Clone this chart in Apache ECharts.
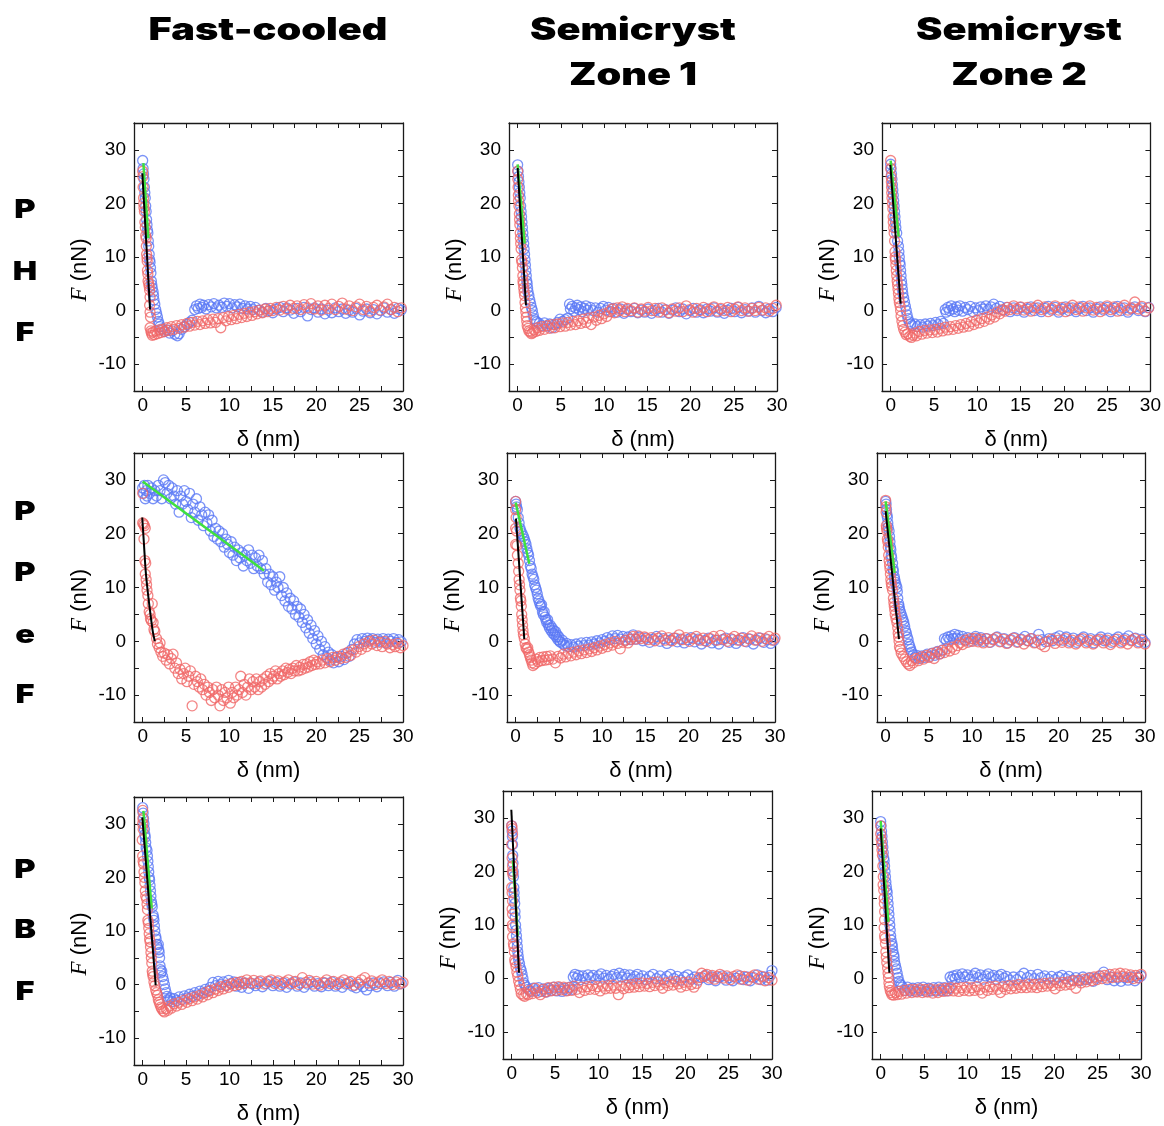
<!DOCTYPE html>
<html>
<head>
<meta charset="utf-8">
<script src="https://cdn.jsdelivr.net/npm/echarts@6/dist/echarts.min.js"></script>
<style>
html,body{margin:0;padding:0;background:#fff;}
#chart{width:1164px;height:1126px;}
</style>
</head>
<body>
<div id="chart"></div>
<script>
// ---- Axis ticks and labels ----
const xTickLabels = [0, 5, 10, 15, 20, 25, 30];
const xTickMarks = [0, 2.5, 5, 7.5, 10, 12.5, 15, 17.5, 20, 22.5, 25, 27.5, 30];
const yTickLabels = [-10, 0, 10, 20, 30];
const yTickMarks = [-10, -5, 0, 5, 10, 15, 20, 25, 30];
const columnTitles = [['Fast-cooled'], ['Semicryst', 'Zone 1'], ['Semicryst', 'Zone 2']];
const rowTitles = [['P', 'H', 'F'], ['P', 'P', 'e', 'F'], ['P', 'B', 'F']];

// ---- PHF, fast-cooled ----
const phfFastApproach = [[0,28],[0.05,26.5],[0.1,25.5],[0.15,24.5],[0.2,23],[0.25,22],[0.3,21],[0.35,19.5],[0.4,18.5],[0.45,17],[0.5,16],[0.55,15],[0.6,14.5],[0.65,13],[0.7,12],[0.75,10.5],[0.8,9.5],[0.85,9],[0.9,8],[0.95,7],[1.0,5.5],[1.05,4.8],[1.1,4.2],[1.2,3.5],[1.25,2.8],[1.3,2],[1.4,1.2],[1.5,0.2],[1.6,-0.5],[1.7,-1.2],[1.8,-2],[1.9,-2.5],[2.0,-3],
[2.2,-3.4],[2.5,-3.9],[2.8,-3.6],[3.1,-4.2],[3.4,-3.8],[3.7,-4.4],[4.0,-4.7],[4.2,-4.3],[4.5,-3.5],[4.8,-3.0],[5.1,-2.6],[5.4,-2.2],[5.7,-1.8],
[6.0,0.2],[6.2,0.9],[6.4,0.4],[6.6,1.2],[6.8,0.6],[7.0,1.0],[7.3,0.3],[7.6,1.1],[7.9,0.7],[8.2,1.3],[8.5,0.5],[8.8,1.0],[9.1,0.6],[9.4,1.4],[9.7,0.8],[10.0,1.3],[10.3,0.5],[10.6,1.1],[10.9,0.7],[11.2,1.2],[11.5,0.4],[11.8,0.9],[12.1,0.3],[12.4,0.8],[12.7,0.2],[13.0,0.6],
[13.4,0.1],[13.8,-0.3],[14.2,0.4],[14.6,0.0],[15.0,-0.4],[15.4,0.3],[15.8,0.6],[16.2,-0.2],[16.6,0.5],[17.0,0.1],[17.4,-0.5],[17.8,0.4],[18.2,-0.2],[18.6,0.6],[19.0,-1.0],[19.4,0.2],[19.8,0.5],[20.2,-0.3],[20.6,0.3],[21.0,-0.6],[21.4,0.1],[21.8,-0.4],[22.2,0.5],[22.6,-0.2],[23.0,0.3],[23.4,-0.5],[23.8,0.1],[24.2,-0.3],[24.6,0.4],[25.0,-0.8],[25.4,-0.1],[25.8,0.3],[26.2,-0.4],[26.6,0.2],[27.0,-0.6],[27.4,0.0],[27.8,0.5],[28.2,-0.3],[28.6,0.2],[29.0,-0.5],[29.4,0.4],[29.8,0.1]];
const phfFastRetract = [[0,26],[0.02,25],[0.05,23],[0.1,21],[0.12,20],[0.15,19.2],[0.2,18.5],[0.25,16.5],[0.3,15.5],[0.35,14],[0.4,13.5],[0.42,12],[0.45,10.5],[0.5,9.8],[0.52,9.2],[0.55,7.5],[0.6,6.8],[0.62,5.5],[0.7,5],[0.75,4.5],[0.8,3.8],[0.85,2.5],[0.8,1],[0.85,-0.3],[0.9,-1.2],[0.85,-3.2],[0.95,-3.8],[1.0,-4.2],[1.1,-4.6],[1.2,-4.0],[1.35,-4.5],
[1.5,-3.8],[1.7,-4.3],[1.9,-3.6],[2.1,-4.1],[2.3,-3.5],[2.5,-3.9],[2.8,-3.2],[3.0,-3.7],[3.3,-3.0],[3.6,-3.5],[3.9,-2.8],[4.2,-3.3],[4.5,-2.6],[4.8,-3.1],[5.1,-2.4],[5.4,-2.9],[5.7,-2.2],[6.0,-2.7],[6.3,-2.0],[6.6,-2.6],[6.9,-1.9],[7.2,-2.4],[7.5,-1.7],[7.8,-2.3],[8.1,-1.6],[8.4,-2.2],[8.7,-1.5],[9.0,-3.2],[9.3,-1.3],[9.6,-1.9],[9.9,-1.1],[10.2,-1.7],[10.5,-0.9],[10.8,-1.5],[11.1,-0.7],[11.4,-1.3],[11.7,-0.5],[12.0,-1.1],[12.3,-0.3],[12.6,-0.9],[12.9,-0.2],[13.2,-0.6],[13.5,0.1],[13.8,-0.4],[14.1,0.3],[14.4,-0.2],[14.7,0.4],[15.0,0.0],
[15.4,0.6],[15.8,0.1],[16.2,0.8],[16.6,0.3],[17.0,1.0],[17.4,0.4],[17.8,0.9],[18.2,0.2],[18.6,1.1],[19.0,0.5],[19.4,1.3],[19.8,0.3],[20.2,0.9],[20.6,0.1],[21.0,1.0],[21.4,0.4],[21.8,1.2],[22.2,0.2],[22.6,0.8],[23.0,1.4],[23.4,0.3],[23.8,0.9],[24.2,0.0],[24.6,0.7],[25.0,1.2],[25.4,0.2],[25.8,0.8],[26.2,-0.1],[26.6,0.6],[27.0,1.0],[27.4,0.1],[27.8,0.7],[28.2,1.2],[28.6,0.2],[29.0,0.6],[29.4,-0.2],[29.8,0.5]];
const phfFastFitApproach = [[0.08,27.5],[0.65,13.5]];
const phfFastFitRetract = [[-0.04,25.6],[0.85,0.2]];

// ---- PHF, semicrystalline zone 1 ----
const phfZone1Approach = [[0,27.2],[0.05,26],[0.1,25],[0.15,24],[0.2,23],[0.25,22],[0.3,21],[0.35,19.5],[0.4,18.5],[0.45,17.5],[0.5,16.5],[0.55,15.5],[0.6,14.5],[0.65,13.5],[0.7,12.5],[0.75,11.5],[0.8,10.5],[0.85,9.5],[0.9,8.5],[0.95,7.5],[1.0,6.5],[1.05,5.5],[1.1,5],[1.15,4.2],[1.2,3.5],[1.3,2.8],[1.4,2],[1.5,1.3],[1.6,0.6],[1.7,0],[1.8,-0.8],[1.9,-1.5],[2.0,-1.9],[2.2,-2.1],
[2.5,-2.4],[2.8,-2.8],[3.1,-2.3],[3.4,-2.9],[3.7,-2.5],[4.0,-3.2],[4.3,-2.6],[4.6,-2.2],[4.9,-1.6],[5.2,-2.0],[5.5,-1.7],[5.8,-1.4],
[6.0,1.2],[6.1,0.3],[6.3,0.8],[6.5,-0.1],[6.7,0.5],[6.9,1.0],[7.1,0.2],[7.3,0.7],[7.5,-0.2],[7.7,0.4],[7.9,0.9],[8.1,0.1],[8.4,0.6],[8.7,0.0],[9.0,0.5],[9.3,-0.3],[9.6,0.4],[9.9,0.8],[10.2,0.1],[10.5,0.6],[10.8,-0.2],[11.1,0.4],
[11.5,-0.3],[11.9,0.3],[12.3,-0.5],[12.7,0.2],[13.1,-0.2],[13.5,0.4],[13.9,-0.4],[14.3,0.1],[14.7,-0.3],[15.1,0.3],[15.5,-0.5],[15.9,0.0],[16.3,0.4],[16.7,-0.3],[17.1,0.2],[17.5,-0.5],[17.9,0.1],[18.3,0.5],[18.7,-0.2],[19.1,0.3],[19.5,-0.6],[19.9,0.0],[20.3,0.4],[20.7,-0.3],[21.1,0.2],[21.5,-0.4],[21.9,0.3],[22.3,-0.1],[22.7,0.5],[23.1,-0.3],[23.5,0.2],[23.9,-0.5],[24.3,0.1],[24.7,0.4],[25.1,-0.2],[25.5,0.6],[25.9,-0.4],[26.3,0.2],[26.7,-0.1],[27.1,0.5],[27.5,-0.3],[27.9,0.8],[28.3,0.0],[28.7,-0.4],[29.1,0.3],[29.5,-0.2],[29.9,0.6]];
const phfZone1Retract = [[0,26],[0.02,24.5],[0.05,23],[0.08,21.5],[0.1,20.5],[0.15,19.5],[0.2,18],[0.22,17],[0.25,16],[0.3,14.5],[0.32,13.5],[0.35,12.5],[0.4,11.5],[0.45,9.5],[0.5,9],[0.55,8],[0.6,6.5],[0.62,5.5],[0.65,5],[0.7,4.2],[0.75,3.5],[0.8,2.8],[0.85,1.5],[0.9,0.5],[0.95,-0.3],[1.0,-1.2],[1.05,-2],[1.1,-2.8],[1.2,-3.3],[1.3,-3.8],[1.45,-4.0],[1.6,-4.3],[1.75,-4.1],[1.9,-3.6],
[2.1,-3.9],[2.3,-3.2],[2.5,-3.7],[2.8,-3.0],[3.1,-3.5],[3.4,-2.8],[3.7,-3.3],[4.0,-2.6],[4.3,-3.2],[4.6,-2.5],[4.9,-3.0],[5.2,-2.3],[5.5,-2.9],[5.8,-2.2],[6.1,-2.7],[6.4,-2.0],[6.7,-2.6],[7.0,-1.9],[7.3,-2.4],[7.6,-1.6],[7.9,-2.2],[8.2,-1.4],[8.5,-2.6],[8.8,-1.2],[9.1,-1.8],[9.4,-0.9],[9.7,-1.5],[10.0,-0.6],[10.3,-1.1],[10.6,-0.2],[10.9,0.3],[11.2,-0.4],[11.5,0.5],[11.8,0.0],[12.1,0.7],[12.4,-0.2],[12.7,0.4],
[13.1,0.0],[13.5,0.5],[13.9,-0.3],[14.3,0.3],[14.7,-0.1],[15.1,0.6],[15.5,0.0],[15.9,0.4],[16.3,-0.3],[16.7,0.5],[17.1,0.1],[17.5,-0.4],[17.9,0.3],[18.3,-0.1],[18.7,0.5],[19.1,-0.2],[19.5,0.9],[19.9,0.2],[20.3,-0.3],[20.7,0.4],[21.1,0.0],[21.5,0.6],[21.9,-0.2],[22.3,0.3],[22.7,0.7],[23.1,-0.1],[23.5,0.4],[23.9,0.0],[24.3,0.6],[24.7,-0.2],[25.1,0.3],[25.5,0.7],[25.9,0.0],[26.3,0.5],[26.7,-0.1],[27.1,0.4],[27.5,0.0],[27.9,0.6],[28.3,0.1],[28.7,0.5],[29.1,-0.1],[29.5,0.4],[29.9,1.0]];
const phfZone1FitApproach = [[0,27.3],[0.81,12.5]];
const phfZone1FitRetract = [[0,26.6],[0.96,1.0]];

// ---- PHF, semicrystalline zone 2 ----
const phfZone2Approach = [[0,27.3],[0.05,26.5],[0.1,25.5],[0.15,24.5],[0.2,23.5],[0.25,22.5],[0.3,21.5],[0.35,20.5],[0.4,19.5],[0.45,18.5],[0.5,17.5],[0.55,16.5],[0.6,15.5],[0.7,14.5],[0.8,13],[0.9,12],[0.95,11],[1.0,10],[1.05,9],[1.1,8.5],[1.15,7.5],[1.2,6.5],[1.25,5.5],[1.3,4.8],[1.35,4],[1.4,3.2],[1.5,2.4],[1.6,1.6],[1.7,0.8],[1.8,0],[1.9,-0.8],[2.0,-1.5],[2.15,-2.1],[2.3,-2.5],[2.5,-2.8],
[2.8,-2.5],[3.1,-3.0],[3.4,-2.6],[3.7,-3.1],[4.0,-2.5],[4.3,-2.9],[4.6,-2.4],[4.9,-2.8],[5.2,-2.2],[5.5,-2.6],[5.8,-2.0],[6.1,-2.4],
[6.3,0.2],[6.4,-0.3],[6.6,0.6],[6.8,0.0],[7.0,0.9],[7.2,0.3],[7.4,-0.2],[7.6,0.7],[7.8,0.1],[8.0,0.9],[8.3,-0.1],[8.6,0.6],[8.9,0.2],[9.2,0.8],[9.5,-0.2],[9.8,0.5],[10.1,0.0],[10.4,0.7],[10.7,0.3],[11.0,0.9],[11.3,0.2],[11.6,0.7],[11.9,1.2],[12.2,0.4],
[12.6,0.8],[13.0,0.1],[13.4,0.6],[13.8,-0.2],[14.2,0.5],[14.6,0.0],[15.0,0.6],[15.4,-0.3],[15.8,0.3],[16.2,0.7],[16.6,0.0],[17.0,0.5],[17.4,-0.2],[17.8,0.4],[18.2,0.8],[18.6,0.1],[19.0,0.6],[19.4,-0.3],[19.8,0.3],[20.2,0.7],[20.6,0.0],[21.0,0.5],[21.4,-0.2],[21.8,0.4],[22.2,0.8],[22.6,0.0],[23.0,0.5],[23.4,-0.3],[23.8,0.3],[24.2,0.7],[24.6,0.1],[25.0,0.6],[25.4,-0.2],[25.8,0.4],[26.2,0.8],[26.6,0.0],[27.0,0.5],[27.4,-0.3],[27.8,0.3],[28.2,0.7],[28.6,0.0],[29.0,0.5],[29.4,-0.2],[29.8,0.6]];
const phfZone2Retract = [[0,28],[0,26.5],[0.05,25],[0.08,24],[0.1,23],[0.12,22],[0.15,21],[0.2,20],[0.25,19],[0.28,17.5],[0.3,16.5],[0.35,15.5],[0.4,14.5],[0.45,13],[0.5,11],[0.52,10],[0.55,9.5],[0.6,8.5],[0.65,7.5],[0.7,6.5],[0.75,5.5],[0.8,4.8],[0.85,4],[0.9,3.2],[0.95,2.2],[1.0,1.5],[1.1,0.8],[1.15,0],[1.2,-1],[1.3,-2],[1.4,-2.8],[1.5,-3.5],[1.65,-4],[1.8,-4.5],[2.0,-4.3],[2.2,-4.8],[2.4,-5.0],[2.6,-4.6],
[2.8,-4.2],[3.0,-4.7],[3.3,-3.9],[3.6,-4.4],[3.9,-3.7],[4.2,-4.2],[4.5,-3.6],[4.8,-4.1],[5.1,-3.5],[5.4,-4.0],[5.7,-3.3],[6.0,-3.8],[6.3,-3.1],[6.6,-3.6],[6.9,-3.0],[7.2,-3.5],[7.5,-2.8],[7.8,-3.3],[8.1,-2.6],[8.4,-3.1],[8.7,-2.4],[9.0,-2.9],[9.3,-2.1],[9.6,-2.6],[9.9,-1.8],[10.2,-2.3],[10.5,-1.5],[10.8,-2.0],[11.1,-1.2],[11.4,-1.6],[11.7,-0.8],[12.0,-1.2],[12.3,-0.3],[12.6,-0.6],[12.9,0.2],[13.2,-0.1],
[13.5,0.6],[13.8,0.2],[14.2,0.9],[14.6,0.3],[15.0,0.7],[15.4,0.1],[15.8,0.6],[16.2,-0.1],[16.6,0.5],[17.0,1.0],[17.4,0.2],[17.8,0.7],[18.2,-0.2],[18.6,0.4],[19.0,0.9],[19.4,0.1],[19.8,0.6],[20.2,-0.2],[20.6,0.5],[21.0,1.0],[21.4,0.2],[21.8,0.7],[22.2,-0.1],[22.6,0.5],[23.0,0.9],[23.4,0.1],[23.8,0.6],[24.2,-0.2],[24.6,0.4],[25.0,0.9],[25.4,0.2],[25.8,0.7],[26.2,-0.1],[26.6,0.5],[27.0,1.0],[27.4,0.1],[27.8,0.5],[28.2,1.6],[28.6,0.3],[29.0,0.8],[29.4,-0.1],[29.8,0.5]];
const phfZone2FitApproach = [[0,28],[0.92,13.8]];
const phfZone2FitRetract = [[-0.04,27.2],[1.15,1.3]];

// ---- PPeF, fast-cooled ----
const ppefFastApproach = [[0,28.5],[0.1,27.5],[0.2,29],[0.3,26.5],[0.4,28],[0.5,27],[0.6,29],[0.8,27.5],[1.0,28.5],[1.2,26.5],[1.4,28],[1.6,27],[1.8,29],[2.0,28],[2.2,26.5],[2.4,30],[2.6,29.5],[2.8,27.5],[3.0,29],[3.2,26.5],[3.4,28.5],[3.6,27],[3.8,25.5],[4.0,28],[4.2,24],[4.4,27],[4.6,25.5],[4.8,28],[5.0,26],[5.2,24.5],[5.4,27.5],[5.6,23],[5.8,25.5],[6.0,24],[6.2,26.5],[6.4,22.5],[6.6,25],[6.8,23.5],[7.0,21.5],[7.2,24],[7.4,22],[7.6,23.5],[7.8,20.5],[8.0,22.5],[8.2,19.5],[8.4,21],[8.6,19],[8.8,20.5],[9.0,18.5],[9.2,20],[9.4,17.5],[9.6,19],[9.8,18],[10.0,16.5],[10.2,18.5],[10.4,16],[10.6,17.5],[10.8,15],[11.0,17],[11.2,15.5],[11.4,16.5],[11.6,14],[11.8,16],[12.0,15],[12.2,17],[12.4,14.5],[12.6,16],[12.8,13.5],[13.0,15.5],[13.2,14],[13.4,16],[13.6,13.5],[13.8,15],[14.0,12.5],[14.2,13.5],[14.4,11],[14.6,12.5],[14.8,10.5],[15.0,12],[15.2,9.5],[15.4,11],[15.6,10],[15.8,12],[16.0,8.5],[16.2,10],[16.4,7.5],[16.6,9],[16.8,6.5],[17.0,8],[17.2,6],[17.4,7.5],[17.6,5],[17.8,6.5],[18.0,4.5],[18.2,6],[18.4,3.5],[18.6,5],[18.8,2.5],[19.0,4],[19.2,1.5],[19.4,3],[19.6,0.5],[19.8,2],[20.0,-0.5],[20.2,1],[20.4,-1.5],[20.6,0],[20.8,-2.5],[21.0,-1],[21.2,-3],[21.4,-2],[21.6,-3.5],[21.8,-2.5],[22.0,-4],[22.3,-3],[22.6,-3.8],[22.9,-2.8],[23.2,-3.4],[23.5,-2.2],[23.8,-2.8],[24.1,-1.5],[24.4,-0.5],[24.7,0.3],[25.0,-0.3],[25.3,0.5],[25.6,0.0],[25.9,0.6],[26.2,0.2],[26.5,0.5],[26.8,-0.2],[27.1,0.4],[27.4,0.0],[27.7,0.5],[28.0,-0.3],[28.3,0.4],[28.6,0.0],[28.9,0.5],[29.2,-0.2],[29.5,0.3],[29.8,-0.1]];
const ppefFastRetract = [[0,27.5],[0,22],[0.1,21.8],[0.2,21.5],[0.3,21],[0.15,19],[0.25,15],[0.35,14.5],[0.3,12.5],[0.4,11.5],[0.45,10.5],[0.5,9.5],[0.6,8.5],[0.65,7],[0.75,5.5],[0.85,5],[0.9,4.2],[1.0,3.8],[1.2,3.5],[1.1,7],[1.3,2.2],[1.4,1.8],[1.6,0.5],[1.7,-0.5],[1.9,-1.2],[2.0,-0.3],[2.1,-2],[2.3,-2.8],[2.5,-2.2],[2.7,-3.5],[2.9,-2.5],[3.1,-4.2],[3.3,-3.2],[3.5,-2.4],[3.7,-5],[3.9,-4],[4.1,-6],[4.3,-5.2],[4.5,-7],[4.7,-6],[4.9,-5],[5.1,-7.5],[5.3,-6.5],[5.5,-5.5],[5.7,-12],[5.9,-8],[6.1,-6.5],[6.3,-7.5],[6.5,-8.5],[6.7,-7],[6.9,-9],[7.1,-8],[7.3,-10],[7.5,-8.5],[7.7,-9.5],[7.9,-11],[8.1,-9],[8.3,-10.5],[8.5,-8.5],[8.7,-10],[8.9,-12],[9.1,-9],[9.3,-11],[9.5,-9.5],[9.7,-10.5],[9.9,-8.5],[10.1,-11.5],[10.3,-9.5],[10.5,-10.5],[10.7,-8.5],[10.9,-10],[11.1,-9],[11.3,-6.5],[11.5,-9.5],[11.7,-8],[11.9,-10],[12.1,-8.5],[12.3,-7],[12.5,-9],[12.7,-7.5],[12.9,-8.5],[13.1,-7],[13.3,-9],[13.5,-7.5],[13.7,-8.5],[13.9,-7],[14.1,-8],[14.3,-6.5],[14.5,-7.5],[14.7,-6],[14.9,-7],[15.1,-6.5],[15.3,-5.5],[15.5,-7],[15.7,-6],[15.9,-6.5],[16.1,-5.5],[16.3,-6.2],[16.5,-5],[16.7,-5.8],[16.9,-5.2],[17.1,-6],[17.3,-5],[17.5,-5.5],[17.7,-4.5],[17.9,-5.5],[18.1,-4.8],[18.3,-5.3],[18.5,-4.3],[18.7,-5],[18.9,-4.2],[19.1,-4.8],[19.3,-3.8],[19.5,-4.5],[19.7,-3.5],[19.9,-4.3],[20.1,-3.8],[20.4,-4.2],[20.7,-3.5],[21.0,-4],[21.3,-3.2],[21.6,-3.8],[21.9,-3],[22.2,-3.5],[22.5,-2.8],[22.8,-3.2],[23.1,-2.4],[23.4,-3],[23.7,-2],[24.0,-2.6],[24.3,-1.6],[24.6,-2],[24.9,-1],[25.2,-1.5],[25.5,-0.5],[25.8,-1],[26.1,0],[26.4,-0.5],[26.7,0.2],[27.0,-0.8],[27.3,-0.2],[27.6,-1],[27.9,0],[28.2,-0.5],[28.5,-1.2],[28.8,-0.6],[29.1,-1],[29.4,-0.4],[29.7,-1.2],[30,-0.8]];
const ppefFastFitApproach = [[0,29.7],[14,13.1]];
const ppefFastFitRetract = [[-0.05,23],[0.15,18],[0.35,13],[0.6,9],[0.9,5],[1.15,2],[1.4,0]];

// ---- PPeF, semicrystalline zone 1 ----
const ppefZone1Approach = [[0,26],[0.05,25.5],[0.1,25],[0.2,24.5],[0.3,23],[0.4,22],[0.5,21],[0.6,20.5],[0.75,20],[0.9,19.5],[1.0,19],[1.1,18.5],[1.2,18],[1.3,17.2],[1.4,16.5],[1.5,16],[1.6,15],[1.7,14],[1.8,13.5],[1.9,12.5],[2.0,12],[2.1,11.5],[2.2,10.5],[2.3,10],[2.4,9.5],[2.5,8.8],[2.6,8],[2.7,7.5],[2.8,7],[2.9,6.5],[3.0,6.8],[3.1,5.5],[3.2,5],[3.3,5.5],[3.4,4.5],[3.5,4],[3.6,3.5],[3.7,4],[3.8,3],[3.9,2.5],[4.0,3],[4.1,2],[4.2,2.5],[4.3,1.5],[4.4,2],[4.5,1.2],[4.6,1.8],[4.7,0.8],[4.8,1.2],[4.9,0.3],[5.0,0.8],[5.1,0],[5.2,-0.2],[5.4,0.2],[5.5,-0.5],[5.7,-0.8],[5.9,-0.4],[6.1,-1.0],[6.4,-0.6],[6.7,-1.1],[7.0,-0.5],[7.3,-0.9],[7.6,-0.3],[7.9,-0.8],[8.2,-0.2],[8.5,-0.7],[8.8,-0.1],[9.1,-0.5],[9.4,0.1],[9.7,-0.3],[10.0,0.3],[10.3,0.0],[10.6,0.7],[10.9,0.3],[11.2,1.0],[11.5,0.5],[11.8,1.1],[12.1,0.4],[12.4,0.9],[12.7,0.2],[13.0,0.8],[13.3,0.3],[13.6,1.2],[13.9,0.4],[14.3,0.8],[14.7,0.1],[15.1,0.6],[15.5,-0.2],[15.9,0.4],[16.3,0.9],[16.7,0.0],[17.1,0.5],[17.5,-0.4],[17.9,0.2],[18.3,0.6],[18.7,-0.1],[19.1,0.4],[19.5,-0.3],[19.9,0.3],[20.3,0.7],[20.7,-0.1],[21.1,0.4],[21.5,-0.5],[21.9,0.1],[22.3,0.6],[22.7,-0.3],[23.1,0.2],[23.5,-0.5],[23.9,0.3],[24.3,0.6],[24.7,-0.2],[25.1,0.3],[25.5,-0.4],[25.9,0.2],[26.3,0.7],[26.7,-0.1],[27.1,0.4],[27.5,-0.5],[27.9,0.2],[28.3,0.6],[28.7,-0.2],[29.1,0.3],[29.5,-0.4],[29.9,0.2]];
const ppefZone1Retract = [[0,26],[0,24.5],[0.05,23],[0,21],[0.1,20.5],[0,18],[0.15,17.8],[0.2,16],[0.3,14.5],[0.35,13],[0.4,11.5],[0.45,10.5],[0.5,9.5],[0.55,8],[0.6,7.5],[0.65,6.5],[0.7,5],[0.75,4],[0.8,3],[0.85,2],[0.9,1.2],[1.0,0.5],[1.1,-0.5],[1.2,-1.2],[1.3,-1.5],[1.4,-1.2],[1.5,-2],[1.6,-2.5],[1.7,-3],[1.8,-3.5],[1.9,-4],[2.0,-4.5],[2.2,-4.2],[2.4,-3.3],[2.6,-3.8],[2.8,-3.0],[3.0,-3.6],[3.2,-2.9],[3.4,-3.5],[3.6,-2.8],[3.8,-3.4],[4.0,-2.7],[4.3,-3.3],[4.6,-4.0],[4.9,-2.8],[5.2,-3.1],[5.5,-2.4],[5.8,-2.9],[6.1,-2.2],[6.4,-2.7],[6.7,-2.0],[7.0,-2.5],[7.3,-1.8],[7.6,-2.3],[7.9,-1.6],[8.2,-2.1],[8.5,-1.4],[8.8,-1.9],[9.1,-1.2],[9.4,-1.6],[9.7,-0.9],[10.0,-1.3],[10.3,-0.6],[10.6,-1.0],[10.9,-0.3],[11.2,-0.7],[11.5,0.0],[11.8,-0.4],[12.1,-1.4],[12.4,-0.2],[12.7,0.2],[13.0,-0.3],[13.3,0.4],[13.6,0.9],[13.9,0.4],[14.2,1.0],[14.5,0.5],[14.9,0.8],[15.3,0.3],[15.7,0.7],[16.1,0.1],[16.5,0.6],[16.9,1.0],[17.3,0.2],[17.7,0.7],[18.1,0.1],[18.5,0.6],[18.9,1.2],[19.3,0.3],[19.7,0.7],[20.1,0.0],[20.5,0.5],[20.9,0.9],[21.3,0.2],[21.7,0.6],[22.1,0.0],[22.5,0.5],[22.9,0.9],[23.3,0.2],[23.7,1.1],[24.1,0.4],[24.5,0.0],[24.9,0.5],[25.3,0.9],[25.7,0.2],[26.1,0.6],[26.5,0.0],[26.9,0.5],[27.3,1.0],[27.7,0.2],[28.1,0.7],[28.5,0.0],[28.9,0.5],[29.3,0.9],[29.7,0.2],[30,0.6]];
const ppefZone1FitApproach = [[0,25.8],[1.58,14.4]];
const ppefZone1FitRetract = [[0.04,22.8],[1.0,0.4]];

// ---- PPeF, semicrystalline zone 2 ----
const ppefZone2Approach = [[0,26],[0.05,25.5],[0.1,24.5],[0.15,23.5],[0.2,23],[0.25,22],[0.3,21.2],[0.4,20.5],[0.45,19.5],[0.5,18.5],[0.55,17.5],[0.6,17],[0.65,16],[0.7,15.5],[0.8,14.5],[0.85,13.5],[0.9,13],[1.0,12],[1.05,11.5],[1.1,11],[1.2,10.5],[1.3,10],[1.35,9.2],[1.4,8],[1.5,7],[1.55,6.5],[1.6,6],[1.7,5.5],[1.8,5],[1.9,4.5],[2.0,4],[2.1,3.5],[2.2,2.8],[2.3,2],[2.4,1.5],[2.5,0.8],[2.6,0.3],[2.7,-0.5],[2.8,-1],[2.9,-1.5],[3.0,-2],[3.2,-2.5],[3.4,-3],[3.6,-2.6],[3.9,-3.2],[4.2,-2.7],[4.5,-3.0],[4.8,-2.4],[5.1,-2.8],[5.4,-2.2],[5.7,-2.6],[6.0,-1.9],[6.3,-2.3],[6.6,-1.6],[6.8,0.5],[7.0,0.2],[7.2,0.8],[7.4,0.3],[7.6,1.0],[7.8,0.5],[8.0,1.3],[8.2,0.6],[8.4,1.1],[8.6,0.4],[8.9,0.9],[9.2,0.2],[9.5,0.7],[9.8,0.0],[10.1,0.5],[10.4,0.9],[10.7,0.2],[11.0,0.7],[11.3,0.0],[11.7,0.5],[12.1,-0.2],[12.5,0.4],[12.9,0.8],[13.3,0.0],[13.7,0.5],[14.1,-0.3],[14.5,0.3],[14.9,0.7],[15.3,-0.1],[15.7,0.4],[16.1,0.9],[16.5,0.1],[16.9,0.5],[17.3,-0.2],[17.7,1.3],[18.1,0.3],[18.5,-0.1],[18.9,0.5],[19.3,0.1],[19.7,0.7],[20.1,1.0],[20.5,0.2],[20.9,0.8],[21.3,0.0],[21.7,0.6],[22.1,-0.2],[22.5,0.4],[22.9,0.8],[23.3,0.0],[23.7,0.5],[24.1,-0.3],[24.5,0.3],[24.9,0.8],[25.3,0.1],[25.7,0.6],[26.1,-0.2],[26.5,0.4],[26.9,0.8],[27.3,0.0],[27.7,0.5],[28.1,1.0],[28.5,0.2],[28.9,0.6],[29.3,-0.1],[29.7,0.4],[30,-0.2]];
const ppefZone2Retract = [[0,26.2],[0.02,25],[0.05,24],[0.08,21.5],[0.1,21],[0.15,20.5],[0.2,19],[0.25,18.5],[0.3,17.5],[0.35,16],[0.4,15],[0.45,14.2],[0.5,13.5],[0.55,12.5],[0.6,11.5],[0.65,10.8],[0.7,10.2],[0.8,9.5],[0.9,8],[0.95,7.2],[1.0,6.5],[1.05,5.8],[1.1,5],[1.2,4.2],[1.3,3.5],[1.4,2.5],[1.45,1.5],[1.5,0.8],[1.55,0],[1.6,-1],[1.7,-1.5],[1.8,-2.2],[2.0,-2.8],[2.2,-3.3],[2.4,-3.8],[2.6,-4.2],[2.8,-4.5],[3.0,-3.6],[3.2,-4.0],[3.5,-3.2],[3.8,-3.6],[4.1,-2.9],[4.4,-3.3],[4.7,-2.6],[5.0,-3.0],[5.3,-2.3],[5.6,-3.2],[5.9,-2.0],[6.2,-2.4],[6.5,-1.7],[6.8,-2.1],[7.1,-1.4],[7.4,-1.8],[7.7,-1.1],[8.0,-1.5],[8.3,-0.8],[8.6,-0.3],[8.9,-0.6],[9.2,0.2],[9.5,-0.2],[9.8,0.5],[10.1,0.0],[10.4,0.6],[10.7,-0.1],[11.0,0.4],[11.3,-0.3],[11.6,0.5],[12.0,-0.2],[12.4,0.3],[12.8,0.7],[13.2,-0.1],[13.6,0.4],[14.0,-0.4],[14.4,0.2],[14.8,0.6],[15.2,-0.2],[15.6,0.3],[16.0,-0.5],[16.4,0.1],[16.8,0.5],[17.2,-0.3],[17.6,0.2],[18.0,-0.6],[18.4,-1.0],[18.8,0.0],[19.2,0.4],[19.6,-0.4],[20.0,0.2],[20.4,-0.2],[20.8,0.5],[21.2,-0.3],[21.6,0.2],[22.0,-0.5],[22.4,0.1],[22.8,0.5],[23.2,-0.3],[23.6,0.2],[24.0,-0.5],[24.4,0.1],[24.8,0.4],[25.2,-0.3],[25.6,0.2],[26.0,-0.6],[26.4,0.0],[26.8,0.4],[27.2,-0.3],[27.6,0.2],[28.0,-0.5],[28.4,0.1],[28.8,0.5],[29.2,-0.3],[29.6,0.2],[30,-0.5]];
const ppefZone2FitApproach = [[0,26],[1.04,12.7]];
const ppefZone2FitRetract = [[0,24.2],[1.54,0.4]];

// ---- PBF, fast-cooled ----
const pbfFastApproach = [[0,33],[0.05,32],[0.1,31],[0.15,30],[0.2,29],[0.25,28],[0.3,27.5],[0.35,26.5],[0.4,25.5],[0.5,25],[0.55,24],[0.6,23],[0.65,22],[0.7,21],[0.75,20],[0.8,19.5],[0.85,18.5],[0.9,17.5],[0.95,16.5],[1.0,15.5],[1.05,15],[1.1,14.5],[1.2,13],[1.25,12.5],[1.3,12],[1.35,11],[1.4,10],[1.5,9],[1.55,8.5],[1.6,7.5],[1.7,7],[1.8,7.5],[1.85,6.5],[1.9,6],[1.95,5],[2.0,3.5],[2.05,2.8],[2.1,2.2],[2.2,2.5],[2.3,1.5],[2.4,0.8],[2.5,0],[2.6,-0.8],[2.7,-1.5],[2.8,-2.2],[2.9,-2.8],[3.0,-3],[3.2,-2.5],[3.4,-3.2],[3.6,-2.6],[3.9,-3.0],[4.2,-2.3],[4.5,-2.8],[4.8,-2.1],[5.1,-2.5],[5.4,-1.8],[5.7,-2.2],[6.0,-1.5],[6.3,-1.9],[6.6,-1.2],[6.9,-1.6],[7.2,-0.9],[7.5,-1.2],[7.8,-0.5],[8.1,0.4],[8.4,-0.2],[8.7,0.6],[9.0,0.0],[9.3,0.5],[9.6,-0.2],[9.9,0.8],[10.2,0.2],[10.5,0.5],[10.8,-0.3],[11.1,0.4],[11.4,-0.5],[11.8,0.3],[12.2,-0.7],[12.6,0.2],[13.0,-0.2],[13.4,0.5],[13.8,-0.4],[14.2,0.2],[14.6,0.6],[15.0,-0.2],[15.4,0.4],[15.8,-0.3],[16.2,0.3],[16.6,-0.5],[17.0,0.1],[17.4,0.5],[17.8,-0.3],[18.2,0.3],[18.6,-0.5],[19.0,0.1],[19.4,0.5],[19.8,-0.3],[20.2,0.2],[20.6,-0.4],[21.0,0.3],[21.4,-0.2],[21.8,0.5],[22.2,-0.3],[22.6,0.2],[23.0,-0.5],[23.4,0.1],[23.8,0.4],[24.2,-0.3],[24.6,-0.6],[25.0,0.1],[25.4,-0.4],[25.8,-1.0],[26.2,-0.2],[26.6,0.3],[27.0,-0.4],[27.4,0.2],[27.8,0.5],[28.2,-0.2],[28.6,0.4],[29.0,-0.3],[29.4,0.8],[29.8,0.2]];
const pbfFastRetract = [[0,32.5],[0.02,31],[0,30],[0.05,29],[-0.05,27],[0,24],[0.05,23],[0.1,22.5],[0.15,21],[0.2,20],[0.25,19],[0.3,17.5],[0.35,16.5],[0.45,16],[0.5,15],[0.55,14],[0.6,12],[0.65,11.5],[0.7,10.5],[0.75,9.5],[0.8,8.5],[0.85,8],[0.9,7],[0.95,6],[1.0,5],[1.05,4],[1.1,2.5],[1.15,2],[1.2,1.5],[1.3,0.5],[1.4,-0.2],[1.5,-1],[1.6,-1.5],[1.7,-2],[1.8,-2.8],[1.9,-3.3],[2.0,-3.7],[2.1,-4.2],[2.2,-4.5],[2.35,-4.9],[2.5,-5.1],[2.7,-4.5],[2.9,-4.8],[3.1,-4.0],[3.3,-4.4],[3.6,-3.6],[3.9,-4.0],[4.2,-3.3],[4.5,-3.7],[4.8,-2.9],[5.1,-3.3],[5.4,-2.6],[5.7,-3.0],[6.0,-2.3],[6.3,-2.7],[6.6,-2.0],[6.9,-2.3],[7.2,-1.5],[7.5,-1.9],[7.8,-1.1],[8.1,-1.5],[8.4,-0.8],[8.7,-1.1],[9.0,-0.4],[9.3,-0.8],[9.6,-0.1],[9.9,-0.5],[10.2,0.2],[10.5,-0.2],[10.8,0.4],[11.1,0.0],[11.4,0.6],[11.7,0.2],[12.0,0.9],[12.4,0.3],[12.8,0.8],[13.2,0.2],[13.6,0.7],[14.0,0.1],[14.4,0.6],[14.8,0.9],[15.2,0.2],[15.6,0.7],[16.0,0.0],[16.4,0.5],[16.8,0.9],[17.2,0.2],[17.6,0.6],[18.0,0.0],[18.4,1.3],[18.8,0.4],[19.2,0.8],[19.6,0.1],[20.0,0.6],[20.4,-0.1],[20.8,0.4],[21.2,0.9],[21.6,0.2],[22.0,0.6],[22.4,0.0],[22.8,0.5],[23.2,0.9],[23.6,0.2],[24.0,0.6],[24.4,-0.1],[24.8,0.4],[25.2,0.9],[25.6,1.3],[26.0,0.3],[26.4,0.7],[26.8,0.0],[27.2,0.5],[27.6,0.9],[28.0,0.2],[28.4,0.6],[28.8,0.0],[29.2,0.5],[29.6,0.1],[30,0.4]];
const pbfFastFitApproach = [[0.08,32.4],[1.04,14.2]];
const pbfFastFitRetract = [[-0.04,31.2],[1.5,-0.15]];

// ---- PBF, semicrystalline zone 1 ----
const pbfZone1Approach = [[0,28.5],[0.05,27.5],[0.08,26.5],[0.1,25],[0.12,23],[0.15,21.5],[0.18,20],[0.2,19],[0.25,17],[0.28,16],[0.3,15],[0.35,14],[0.38,12.5],[0.4,11.5],[0.45,10],[0.5,9],[0.55,8],[0.6,7],[0.65,6],[0.7,5],[0.75,4.2],[0.8,3.5],[0.9,2.8],[1.0,2],[1.1,1.5],[1.2,0.8],[1.3,0],[1.4,-0.8],[1.5,-1.2],[1.7,-1.6],[1.9,-2.0],[2.2,-2.4],[2.5,-1.8],[2.8,-2.3],[3.1,-1.7],[3.4,-2.4],[3.7,-1.9],[4.0,-2.5],[4.3,-1.8],[4.6,-2.2],[4.9,-1.6],[5.2,-2.3],[5.5,-1.7],[5.8,-2.4],[6.1,-1.8],[6.4,-2.2],[6.7,-1.6],[7.0,-2.0],[7.1,0.3],[7.3,0.8],[7.5,0.1],[7.7,0.6],[7.9,-0.2],[8.2,0.5],[8.5,0.0],[8.8,0.7],[9.1,0.2],[9.4,0.6],[9.7,-0.1],[10.0,0.5],[10.3,0.9],[10.6,0.1],[10.9,0.6],[11.2,-0.1],[11.5,0.4],[11.8,0.8],[12.1,0.2],[12.4,1.0],[12.7,0.3],[13.0,0.8],[13.3,0.1],[13.6,0.7],[13.9,-0.1],[14.2,0.4],[14.5,0.8],[14.8,0.0],[15.1,0.5],[15.5,-0.2],[15.9,0.4],[16.3,0.8],[16.7,0.0],[17.1,0.5],[17.5,-0.2],[17.9,0.4],[18.3,0.8],[18.7,0.0],[19.1,0.4],[19.5,-0.3],[19.9,0.3],[20.3,0.7],[20.7,-0.1],[21.1,0.3],[21.5,-0.3],[21.9,0.2],[22.3,0.6],[22.7,-0.2],[23.1,0.3],[23.5,-0.4],[23.9,0.2],[24.3,0.5],[24.7,-0.3],[25.1,0.2],[25.5,-0.4],[25.9,0.1],[26.3,0.5],[26.7,-0.2],[27.1,0.3],[27.5,-0.4],[27.9,0.2],[28.3,0.7],[28.7,-0.2],[29.1,0.3],[29.5,-0.3],[29.8,0.6],[30,1.5]];
const pbfZone1Retract = [[0,28.5],[0.05,28],[0.1,27],[0,25],[0.05,22.5],[0.1,21],[0.08,20],[0.12,19.5],[0,17],[0.05,16],[0.1,14.5],[0.05,13],[0.1,12],[0.08,10],[0.12,9.5],[0.1,7.8],[0.2,6.5],[0.25,6],[0.3,5],[0.35,3.5],[0.4,3],[0.5,2.2],[0.6,1.2],[0.7,0.5],[0.8,-0.5],[0.9,-1.2],[1.0,-2],[1.1,-2.8],[1.3,-3.1],[1.5,-3.3],[1.7,-2.8],[1.9,-3.0],[2.1,-2.2],[2.4,-2.8],[2.7,-1.8],[3.0,-2.6],[3.3,-3.0],[3.6,-2.0],[3.9,-2.5],[4.2,-1.7],[4.5,-2.3],[4.8,-1.6],[5.1,-2.2],[5.4,-1.5],[5.7,-2.1],[6.0,-1.6],[6.3,-2.3],[6.6,-1.7],[6.9,-2.2],[7.2,-1.4],[7.5,-2.0],[7.8,-2.6],[8.1,-1.6],[8.4,-2.2],[8.7,-1.5],[9.0,-2.0],[9.3,-1.3],[9.6,-2.0],[9.9,-1.5],[10.2,-2.3],[10.5,-1.4],[10.8,-1.9],[11.1,-1.3],[11.4,-1.8],[11.7,-1.2],[12.0,-1.8],[12.3,-3.0],[12.6,-1.4],[12.9,-1.9],[13.2,-1.2],[13.5,-1.7],[13.8,-1.1],[14.1,-1.6],[14.4,-0.9],[14.7,-1.5],[15.0,-0.8],[15.3,-1.4],[15.6,-0.9],[15.9,-1.5],[16.2,-0.7],[16.5,-1.3],[16.8,-0.6],[17.1,-1.2],[17.4,-1.8],[17.7,-0.8],[18.0,-1.3],[18.3,-0.6],[18.6,-1.2],[18.9,-0.5],[19.2,-1.0],[19.5,-1.6],[19.8,-0.7],[20.1,-1.3],[20.4,-0.6],[20.7,-1.1],[21.0,-1.6],[21.3,-0.9],[21.6,0.2],[21.9,1.0],[22.2,0.4],[22.5,0.8],[22.8,0.1],[23.1,0.6],[23.4,-0.1],[23.7,0.4],[24.0,0.8],[24.4,0.1],[24.8,0.5],[25.2,-0.2],[25.6,0.4],[26.0,0.7],[26.4,-0.1],[26.8,0.4],[27.2,-0.3],[27.6,0.3],[28.0,0.7],[28.4,-0.1],[28.8,0.4],[29.2,-0.4],[29.6,0.2],[30,-0.3]];
const pbfZone1FitApproach = [[0.15,22],[0.7,8]];
const pbfZone1FitRetract = [[-0.04,31.5],[0.84,1.1]];

// ---- PBF, semicrystalline zone 2 ----
const pbfZone2Approach = [[0,29.3],[0.05,28.5],[0.1,27.5],[0.15,26.5],[0.2,25.5],[0.25,24.5],[0.3,23.5],[0.35,22.5],[0.4,22],[0.45,21],[0.5,20],[0.55,19],[0.6,18],[0.65,17.2],[0.7,16.5],[0.75,16],[0.8,15],[0.85,14],[0.9,13],[0.95,12],[1.0,11],[1.05,10],[1.1,9],[1.15,8],[1.2,7.2],[1.3,6.5],[1.35,6],[1.4,5.2],[1.5,4.5],[1.55,4],[1.6,3.2],[1.7,2.5],[1.8,1.8],[1.9,1],[2.0,0.2],[2.1,-0.5],[2.2,-1],[2.35,-1.2],[2.5,-1.6],[2.8,-2.2],[3.1,-1.6],[3.4,-2.3],[3.7,-1.8],[4.0,-2.4],[4.3,-1.7],[4.6,-2.2],[4.9,-1.6],[5.2,-2.4],[5.5,-1.8],[5.8,-2.3],[6.1,-1.7],[6.4,-2.3],[6.7,-1.6],[7.0,-2.2],[7.3,-1.7],[7.6,-2.3],[7.9,-1.8],[8.0,0.3],[8.2,-0.2],[8.4,0.5],[8.6,0.0],[8.8,0.7],[9.1,0.2],[9.4,0.9],[9.7,0.3],[10.0,0.7],[10.3,-0.1],[10.6,0.5],[10.9,1.0],[11.2,0.2],[11.5,0.7],[11.8,-0.1],[12.1,0.5],[12.4,0.9],[12.7,0.2],[13.0,0.6],[13.3,-0.1],[13.6,0.5],[13.9,0.8],[14.2,0.1],[14.5,0.4],[14.9,-0.3],[15.3,0.3],[15.7,-0.2],[16.1,0.4],[16.5,1.0],[16.9,0.2],[17.3,0.6],[17.7,0.0],[18.1,0.8],[18.5,0.2],[18.9,0.5],[19.3,-0.1],[19.7,0.4],[20.1,-0.2],[20.5,0.3],[20.9,0.6],[21.3,0.0],[21.7,0.4],[22.1,-0.3],[22.5,0.2],[22.9,-0.4],[23.3,0.3],[23.7,-0.2],[24.1,0.2],[24.5,-0.5],[24.9,0.1],[25.3,0.5],[25.7,1.2],[26.1,-0.2],[26.5,0.3],[26.9,-0.4],[27.3,0.1],[27.7,-0.5],[28.1,0.2],[28.5,-0.3],[28.9,0.3],[29.3,-0.4],[29.7,0.2],[30,0.5]];
const pbfZone2Retract = [[0,28.5],[0,27],[0.05,26],[0.1,25],[0.15,24],[0.2,23],[0.25,21],[0.3,19],[0.28,17.5],[0.35,16.5],[0.4,15],[0.42,14],[0.45,12.5],[0.45,11],[0.4,9.5],[0.45,8],[0.5,7.5],[0.55,6.5],[0.6,5],[0.65,4],[0.7,3],[0.8,2],[0.85,1],[0.9,0.2],[0.95,-0.8],[1.0,-1.5],[1.1,-2.2],[1.2,-2.6],[1.3,-3.0],[1.5,-3.1],[1.7,-2.6],[1.9,-3.0],[2.1,-2.4],[2.4,-2.9],[2.7,-2.2],[3.0,-2.7],[3.3,-2.0],[3.6,-2.6],[3.9,-2.0],[4.2,-2.5],[4.5,-1.9],[4.8,-2.6],[5.1,-2.0],[5.4,-2.5],[5.7,-1.9],[6.0,-2.7],[6.3,-2.1],[6.6,-2.6],[6.9,-1.9],[7.2,-2.4],[7.5,-1.8],[7.8,-2.3],[8.1,-1.7],[8.4,-2.3],[8.7,-1.8],[9.0,-2.4],[9.3,-1.7],[9.6,-2.2],[9.9,-1.6],[10.2,-2.3],[10.5,-1.7],[10.8,-2.2],[11.1,-1.5],[11.4,-2.1],[11.7,-2.7],[12.0,-1.6],[12.3,-2.2],[12.6,-1.5],[12.9,-2.0],[13.2,-1.4],[13.5,-2.0],[13.8,-2.6],[14.1,-1.5],[14.4,-2.0],[14.7,-1.3],[15.0,-1.9],[15.3,-1.3],[15.6,-1.8],[15.9,-1.1],[16.2,-1.7],[16.5,-1.2],[16.8,-1.7],[17.1,-1.0],[17.4,-1.6],[17.7,-1.1],[18.0,-1.7],[18.3,-1.0],[18.6,-1.5],[18.9,-0.9],[19.2,-1.4],[19.5,-0.8],[19.8,-1.3],[20.1,-1.9],[20.4,-0.8],[20.7,-1.3],[21.0,-0.7],[21.3,-1.2],[21.6,-0.6],[21.9,-1.1],[22.2,-0.4],[22.5,-1.8],[22.8,-0.3],[23.1,-0.8],[23.4,-0.1],[23.7,-0.6],[24.0,0.1],[24.3,-0.4],[24.6,0.3],[24.9,-0.2],[25.2,0.5],[25.5,0.0],[25.8,0.6],[26.1,0.1],[26.4,0.8],[26.7,0.2],[27.0,0.9],[27.3,0.3],[27.6,1.0],[27.9,0.4],[28.2,0.9],[28.5,0.2],[28.8,0.7],[29.1,0.0],[29.4,0.6],[29.7,0.1],[30,0.8]];
const pbfZone2FitApproach = [[0,29.4],[0.88,10.6]];
const pbfZone2FitRetract = [[0,28],[1.0,1.1]];

// ---- Panel assembly (row by row) ----
const panels = [
  { box: [134, 123, 269, 268], approach: phfFastApproach,  retract: phfFastRetract,  fitA: phfFastFitApproach,  fitR: phfFastFitRetract },
  { box: [509, 123, 268, 268], approach: phfZone1Approach, retract: phfZone1Retract, fitA: phfZone1FitApproach, fitR: phfZone1FitRetract },
  { box: [882, 123, 269, 268], approach: phfZone2Approach, retract: phfZone2Retract, fitA: phfZone2FitApproach, fitR: phfZone2FitRetract },
  { box: [134, 453, 269, 269], approach: ppefFastApproach,  retract: ppefFastRetract,  fitA: ppefFastFitApproach,  fitR: ppefFastFitRetract },
  { box: [507, 453, 268, 269], approach: ppefZone1Approach, retract: ppefZone1Retract, fitA: ppefZone1FitApproach, fitR: ppefZone1FitRetract },
  { box: [877, 453, 268, 269], approach: ppefZone2Approach, retract: ppefZone2Retract, fitA: ppefZone2FitApproach, fitR: ppefZone2FitRetract },
  { box: [134, 797, 269, 270], approach: pbfFastApproach,  retract: pbfFastRetract,  fitA: pbfFastFitApproach,  fitR: pbfFastFitRetract },
  { box: [503, 791, 269, 268], approach: pbfZone1Approach, retract: pbfZone1Retract, fitA: pbfZone1FitApproach, fitR: pbfZone1FitRetract },
  { box: [872, 791, 269, 268], approach: pbfZone2Approach, retract: pbfZone2Retract, fitA: pbfZone2FitApproach, fitR: pbfZone2FitRetract }
];

const BLUE = '#5a78f5';
const RED = '#f06868';
const GREEN = '#3fe03f';
const AXIS = '#1a1a1a';
const SANS = '"Liberation Sans", Arial, sans-serif';

const grid = [], xAxis = [], yAxis = [], series = [];

panels.forEach((p, i) => {
  const [left, top, width, height] = p.box;
  grid.push({ left, top, width, height });

  const line = { show: true, onZero: false, lineStyle: { color: AXIS, width: 1.3 } };
  const tickX = { show: true, inside: true, length: 5, customValues: xTickMarks, lineStyle: { color: AXIS, width: 1 } };
  const tickY = { show: true, inside: true, length: 5, customValues: yTickMarks, lineStyle: { color: AXIS, width: 1 } };

  // bottom axis with labels
  xAxis.push({
    gridIndex: i, type: 'value', min: -1, max: 30, position: 'bottom',
    axisLine: line, axisTick: tickX, splitLine: { show: false },
    axisLabel: { customValues: xTickLabels, color: '#000', fontFamily: SANS, fontSize: 19, margin: 5 },
    name: 'δ (nm)', nameLocation: 'middle', nameGap: 38,
    nameTextStyle: { color: '#000', fontFamily: SANS, fontSize: 22 }
  });
  // top mirror axis
  xAxis.push({
    gridIndex: i, type: 'value', min: -1, max: 30, position: 'top',
    axisLine: line, axisTick: tickX, splitLine: { show: false }, axisLabel: { show: false }
  });
  // left axis with labels
  yAxis.push({
    gridIndex: i, type: 'value', min: -15, max: 35, position: 'left',
    axisLine: line, axisTick: tickY, splitLine: { show: false },
    axisLabel: { customValues: yTickLabels, color: '#000', fontFamily: SANS, fontSize: 19, margin: 8 },
    name: '{it|F} (nN){pad|}', nameLocation: 'middle', nameGap: 43,
    nameTextStyle: {
      color: '#000', fontFamily: SANS, fontSize: 22,
      rich: {
        it: { fontFamily: '"Liberation Serif", "Times New Roman", serif', fontStyle: 'italic', fontSize: 23, color: '#000' },
        pad: { width: 26 }
      }
    }
  });
  // right mirror axis
  yAxis.push({
    gridIndex: i, type: 'value', min: -15, max: 35, position: 'right',
    axisLine: line, axisTick: tickY, splitLine: { show: false }, axisLabel: { show: false }
  });

  const xi = 2 * i, yi = 2 * i;
  const scatter = (data, color, z) => ({
    type: 'scatter', xAxisIndex: xi, yAxisIndex: yi, data, symbol: 'circle', symbolSize: 10, z,
    itemStyle: { color: 'rgba(255,255,255,0)', borderColor: color, borderWidth: 1.3 },
    emphasis: { disabled: true }, silent: true
  });
  series.push(scatter(p.approach, BLUE, 2));
  series.push(scatter(p.retract, RED, 3));
  series.push({
    type: 'line', xAxisIndex: xi, yAxisIndex: yi, data: p.fitA, showSymbol: false, z: 4,
    lineStyle: { color: GREEN, width: 2.5 }, silent: true
  });
  series.push({
    type: 'line', xAxisIndex: xi, yAxisIndex: yi, data: p.fitR, showSymbol: false, z: 5, smooth: 0.3,
    lineStyle: { color: '#000', width: 2 }, silent: true
  });
});

// column and row headings: black-weight sans, widened horizontally
const HEAVY_FAMILY = 'Inter, Lato, Roboto, sans-serif';
const graphic = [];
const colCenters = [268, 633, 1019];
columnTitles.forEach((lines, c) => {
  lines.forEach((t, k) => {
    graphic.push({
      type: 'text', x: colCenters[c], y: 31 + 45 * k, scaleX: 1.28, scaleY: 1,
      style: { x: 0, y: 0, text: t, font: '900 31px ' + HEAVY_FAMILY, fill: '#000', align: 'center', verticalAlign: 'middle' }
    });
  });
});
const rowLetterY = [[210, 272, 333], [512, 573, 635, 695], [870, 930, 992]];
rowTitles.forEach((letters, r) => {
  letters.forEach((t, k) => {
    graphic.push({
      type: 'text', x: 25, y: rowLetterY[r][k], scaleX: 1.25, scaleY: 1,
      style: { x: 0, y: 0, text: t, font: '900 26px ' + HEAVY_FAMILY, fill: '#000', align: 'center', verticalAlign: 'middle' }
    });
  });
});

const chart = echarts.init(document.getElementById('chart'), null, { renderer: 'canvas' });
chart.setOption({ animation: false, backgroundColor: '#fff', grid, xAxis, yAxis, series, graphic });
</script>
</body>
</html>
